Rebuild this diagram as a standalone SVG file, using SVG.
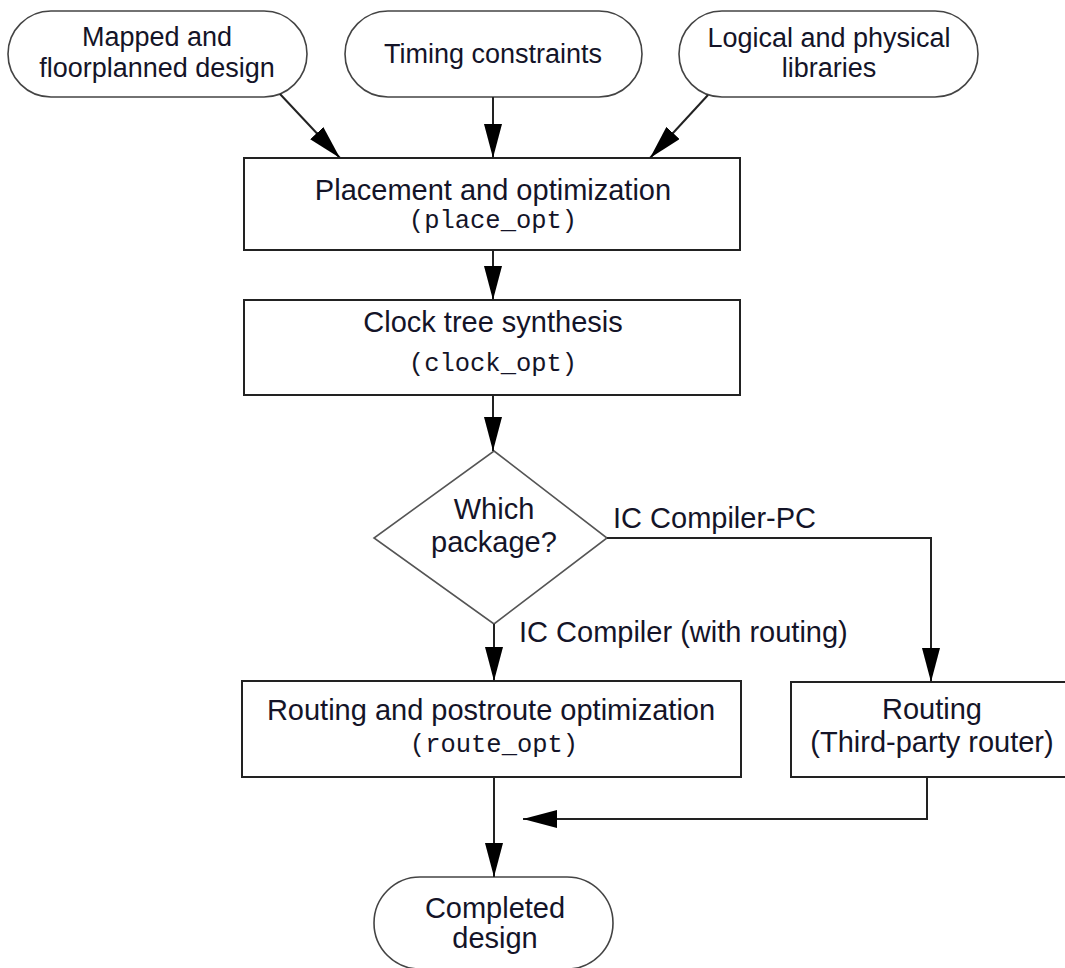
<svg xmlns="http://www.w3.org/2000/svg" width="1065" height="968" viewBox="0 0 1065 968">
<style>
.term{fill:#fff;stroke:#444;stroke-width:1.6}
.box{fill:#fff;stroke:#222;stroke-width:2}
.dia{fill:#fff;stroke:#555;stroke-width:1.6}
.t{font-family:"Liberation Sans",Arial,sans-serif;font-size:29px;fill:#141428;text-anchor:middle}
.ts{font-size:27px}
.m{font-family:"Liberation Mono","Courier New",monospace;font-size:25.5px;fill:#141428;text-anchor:middle}
.lbl{font-family:"Liberation Sans",Arial,sans-serif;font-size:29px;fill:#141428}
.c{fill:none;stroke:#222;stroke-width:2}
</style>
<defs>
<marker id="ah" markerUnits="userSpaceOnUse" markerWidth="34" markerHeight="18" refX="34" refY="9" orient="auto">
<path d="M0,0 L34,9 L0,18 z" fill="#000"/>
</marker>
</defs>
<g id="mapped">
<rect class="term" x="8" y="11" width="299" height="86" rx="43"/>
<text class="t ts" x="157" y="46">Mapped and</text>
<text class="t ts" x="157" y="77">floorplanned design</text>
</g>
<g id="timing">
<rect class="term" x="345" y="11" width="297" height="86" rx="43"/>
<text class="t ts" x="493" y="63">Timing constraints</text>
</g>
<g id="libraries">
<rect class="term" x="679" y="11" width="299" height="86" rx="43"/>
<text class="t ts" x="829" y="47">Logical and physical</text>
<text class="t ts" x="829" y="77">libraries</text>
</g>
<g id="place">
<rect class="box" x="244" y="158" width="496" height="92"/>
<text class="t" x="493" y="200">Placement and optimization</text>
<text class="m" x="493" y="228">(place_opt)</text>
</g>
<g id="clock">
<rect class="box" x="244" y="300" width="496" height="95"/>
<text class="t" x="493" y="332">Clock tree synthesis</text>
<text class="m" x="493" y="371">(clock_opt)</text>
</g>
<g id="decision">
<polygon class="dia" points="494,451 607,538 494,624 374,538"/>
<text class="t" x="494" y="519">Which</text>
<text class="t" x="494" y="552">package?</text>
</g>
<g id="route">
<rect class="box" x="242" y="681" width="499" height="96"/>
<text class="t" x="491" y="720">Routing and postroute optimization</text>
<text class="m" x="494" y="752">(route_opt)</text>
</g>
<g id="thirdparty">
<rect class="box" x="791" y="682" width="290" height="95"/>
<text class="t" x="932" y="719">Routing</text>
<text class="t" x="932" y="752">(Third-party router)</text>
</g>
<g id="completed">
<rect class="term" x="374" y="877" width="239" height="92" rx="46"/>
<text class="t" x="495" y="918">Completed</text>
<text class="t" x="495" y="948">design</text>
</g>
<g id="connectors">
<line class="c" x1="280" y1="94" x2="340" y2="158" marker-end="url(#ah)"/>
<line class="c" x1="493" y1="97" x2="493" y2="158" marker-end="url(#ah)"/>
<line class="c" x1="708" y1="95" x2="650" y2="158" marker-end="url(#ah)"/>
<line class="c" x1="493" y1="250" x2="493" y2="300" marker-end="url(#ah)"/>
<line class="c" x1="493" y1="395" x2="493" y2="451" marker-end="url(#ah)"/>
<line class="c" x1="494" y1="624" x2="494" y2="681" marker-end="url(#ah)"/>
<polyline class="c" points="607,538 931,538 931,682" marker-end="url(#ah)"/>
<line class="c" x1="494" y1="777" x2="494" y2="877" marker-end="url(#ah)"/>
<polyline class="c" points="927,777 927,819 523,819" marker-end="url(#ah)"/>
<text class="lbl" x="613" y="528">IC Compiler-PC</text>
<text class="lbl" x="519" y="642">IC Compiler (with routing)</text>
</g>
</svg>
